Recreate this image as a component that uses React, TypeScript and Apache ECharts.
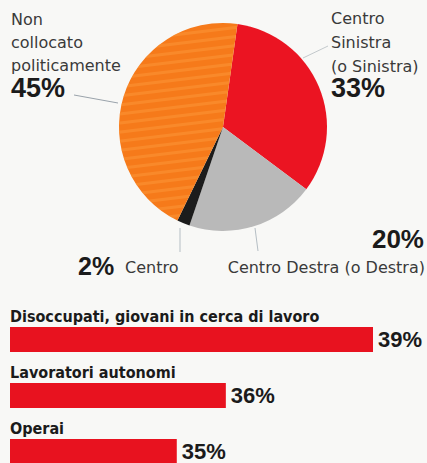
import React, { useEffect, useRef } from "react";
import * as echarts from "echarts";

// Pie data (clockwise from the top)
const pieNames = ["Centro Sinistra (o Sinistra)", "Centro Destra (o Destra)", "Centro", "Non collocato politicamente"];
const pieValues = [33, 20, 2, 45];
const pieColors = ["#eb1422", "#b9b9b9", "#1c1c1c", "#f67a1a"];

// Bar data
const barCategories = ["Disoccupati, giovani in cerca di lavoro", "Lavoratori autonomi", "Operai"];
const barValues = [39, 36, 35];

const SMALL = "'DejaVu Sans', sans-serif";
const BOLD = "'Liberation Sans', Arial, sans-serif";
const COND = "'DejaVu Sans Condensed', 'Liberation Sans Narrow', 'DejaVu Sans', sans-serif";

export default function App() {
  const ref = useRef<HTMLDivElement>(null);
  useEffect(() => {
    if (!ref.current) return;
    const chart = echarts.init(ref.current, null, { renderer: "svg" });
    const txt = (x: number, y: number, text: string, size: number, bold: boolean, align = "left") => ({
      type: "text",
      x,
      y,
      style: {
        text,
        fill: bold ? "#1b1b1b" : "#3a3a3a",
        font: `${bold ? "bold " : ""}${size}px ${bold ? BOLD : SMALL}`,
        textAlign: align,
        textVerticalAlign: "middle",
      },
    });
    const ln = (x1: number, y1: number, x2: number, y2: number, c = "#9aa3ab") => ({
      type: "line",
      shape: { x1, y1, x2, y2 },
      style: { stroke: c, lineWidth: 1 },
    });
    chart.setOption({
      animation: false,
      backgroundColor: "#f8f8f6",
      graphic: [
        txt(11, 19, "Non", 16, false),
        txt(11, 42, "collocato", 16, false),
        txt(11, 65, "politicamente", 16, false),
        txt(11, 88, `${pieValues[3]}%`, 27, true),
        txt(331, 18, "Centro", 16, false),
        txt(331, 42, "Sinistra", 16, false),
        txt(331, 66, "(o Sinistra)", 16, false),
        txt(331, 88, `${pieValues[0]}%`, 27, true),
        txt(424, 239, `${pieValues[1]}%`, 26, true, "right"),
        txt(425, 267, "Centro Destra (o Destra)", 16, false, "right"),
        txt(78, 266, `${pieValues[2]}%`, 25, true),
        txt(125, 267, "Centro", 16, false),
        ln(74, 95, 118, 103),
        ln(303, 58, 328, 46, "#c3c9cc"),
        ln(180, 228, 180, 252, "#b5bec4"),
        ln(255, 228, 258, 251, "#b5bec4"),
      ],
      grid: { left: 10, top: 311.5, width: 363, height: 168, outerBoundsMode: "none", containLabel: false },
      xAxis: { type: "value", min: 31.6, max: 39, show: false },
      yAxis: {
        type: "category",
        data: barCategories,
        inverse: true,
        axisLine: { show: false },
        axisTick: { show: false },
        axisLabel: {
          inside: true,
          margin: 0,
          align: "left",
          verticalAlign: "bottom",
          lineHeight: 18,
          padding: [0, 0, 14, 0],
          color: "#1b1b1b",
          fontWeight: "bold",
          fontSize: 16,
          fontFamily: COND,
        },
      },
      series: [
        {
          type: "pie",
          center: [223, 127],
          radius: 104,
          startAngle: 82,
          clockwise: true,
          label: { show: false },
          labelLine: { show: false },
          itemStyle: { borderWidth: 0 },
          data: pieNames.map((n, i) => ({
            name: n,
            value: pieValues[i],
            itemStyle: {
              color: pieColors[i],
              ...(i === 3
                ? {
                    decal: {
                      symbol: "rect",
                      symbolSize: 1,
                      dashArrayX: [[1, 0]],
                      dashArrayY: [3, 6],
                      rotation: -0.12,
                      color: "rgba(255,165,70,0.35)",
                    },
                  }
                : {}),
            },
          })),
        },
        {
          type: "bar",
          barWidth: 25,
          data: barValues,
          itemStyle: { color: "#e8121f" },
          label: {
            show: true,
            position: "right",
            distance: 5,
            formatter: "{c}%",
            color: "#1b1b1b",
            fontWeight: "bold",
            fontSize: 22,
            fontFamily: BOLD,
          },
        },
      ],
    });
    return () => chart.dispose();
  }, []);
  return <div ref={ref} style={{ position: "fixed", left: 0, top: 0, width: 427, height: 463 }} />;
}
